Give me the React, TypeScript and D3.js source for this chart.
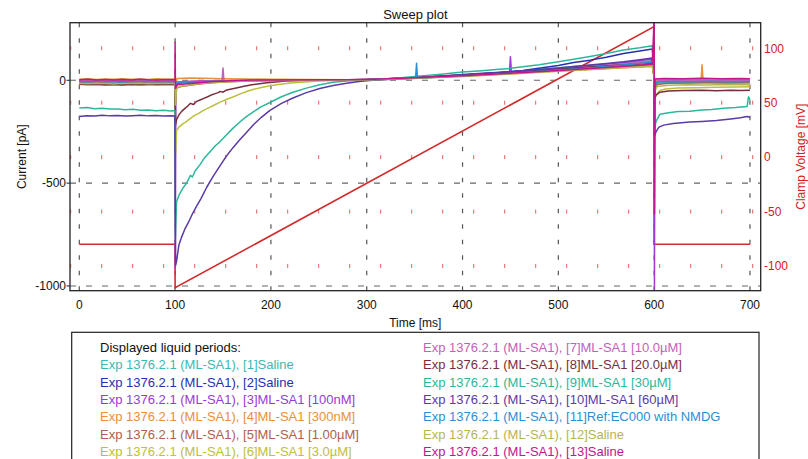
import React from 'react';
import * as d3 from 'd3';

type P = [number, number];

const xTicks = [0, 100, 200, 300, 400, 500, 600, 700];
const currentTicks = [0, -500, -1000];
const voltageTicks = [100, 50, 0, -50, -100];

const legendTitle = 'Displayed liquid periods:';
const seriesNames = [
  'Exp 1376.2.1 (ML-SA1), [1]Saline',
  'Exp 1376.2.1 (ML-SA1), [2]Saline',
  'Exp 1376.2.1 (ML-SA1), [3]ML-SA1 [100nM]',
  'Exp 1376.2.1 (ML-SA1), [4]ML-SA1 [300nM]',
  'Exp 1376.2.1 (ML-SA1), [5]ML-SA1 [1.00µM]',
  'Exp 1376.2.1 (ML-SA1), [6]ML-SA1 [3.0µM]',
  'Exp 1376.2.1 (ML-SA1), [7]ML-SA1 [10.0µM]',
  'Exp 1376.2.1 (ML-SA1), [8]ML-SA1 [20.0µM]',
  'Exp 1376.2.1 (ML-SA1), [9]ML-SA1 [30µM]',
  'Exp 1376.2.1 (ML-SA1), [10]ML-SA1 [60µM]',
  'Exp 1376.2.1 (ML-SA1), [11]Ref:EC000 with NMDG',
  'Exp 1376.2.1 (ML-SA1), [12]Saline',
  'Exp 1376.2.1 (ML-SA1), [13]Saline',
];
const seriesColors = [
  '#3bb9b3', '#2530b0', '#9a3ad6', '#e8903a', '#b0604a', '#bcc03a', '#c35fb9',
  '#782e3c', '#2db79a', '#5a3aa8', '#2a90d6', '#b5b650', '#c0168e',
];

const voltage: P[] = [[0, -80], [100, -80], [100, -120], [600, 120], [600, -80], [700, -80]];

const s1: P[] = [[0,-6],[9,-4],[18,-8],[27,-5],[36,-7],[45,-4],[54,-8],[63,-6],[72,-5],[81,-8],[90,-6],[99.7,-7],[100.4,-60],[101.5,-18],[106,-14],[115,-11],[128,-8],[142,-5],[160,-3],[185,-1],[215,0],[250,1],[280,2],[310,3],[340,8],[370,15],[400,24],[430,34],[460,45],[490,57],[520,68],[550,78],[575,88],[598,95],[600,30],[600.6,-40],[603,-14],[615,-11],[635,-12],[655,-10],[675,-12],[700,-11]];
const s2: P[] = [[0,-3],[9,-5],[18,-2],[27,-4],[36,-3],[45,-6],[54,-3],[63,-4],[72,-2],[81,-5],[90,-3],[99.7,-4],[100.4,-45],[101.5,-14],[108,-10],[120,-7],[135,-5],[155,-3],[180,-1],[210,1],[250,2],[290,3],[320,6],[350,13],[380,20],[410,28],[440,38],[463,48],[485,62],[500,72],[516,86],[533,98],[550,112],[568,130],[585,142],[598,152],[600,40],[600.6,-30],[603,-6],[620,-4],[640,-5],[660,-3],[680,-5],[700,-4]];
const s3: P[] = [[0,-1],[9,1],[18,-2],[27,0],[36,-1],[45,2],[54,-1],[63,0],[72,-2],[81,1],[90,-1],[99.7,0],[100.2,-915],[100.8,-40],[103,-8],[112,-6],[125,-4],[140,-2],[160,-1],[190,0],[230,1],[270,2],[300,4],[330,9],[360,15],[390,22],[420,30],[449,38],[450,115],[451,39],[480,48],[510,60],[540,74],[570,88],[598,104],[600,30],[600.3,-1020],[600.8,-20],[604,-5],[625,-3],[650,-4],[675,-2],[700,-3]];
const s4: P[] = [[0,5],[9,7],[18,4],[27,6],[36,5],[45,8],[54,5],[63,6],[72,4],[81,7],[90,5],[99.7,6],[100.5,-20],[102,9],[115,11],[130,10],[150,8],[175,6],[200,5],[240,4],[280,3],[310,4],[340,8],[370,13],[400,19],[430,26],[460,33],[490,41],[520,49],[550,56],[575,62],[598,67],[600,20],[600.6,-10],[603,5],[620,4],[640,3],[649,4],[650,75],[651,4],[670,3],[690,4],[700,3]];
const s5: P[] = [[0,-11],[9,-13],[18,-10],[27,-12],[36,-14],[45,-11],[54,-12],[63,-10],[72,-13],[81,-12],[90,-11],[99.7,-12],[100.5,-110],[101.5,-38],[106,-30],[115,-24],[125,-18],[138,-12],[152,-8],[170,-5],[195,-2],[230,0],[270,2],[300,3],[330,8],[360,14],[390,21],[420,28],[450,36],[480,44],[510,53],[540,61],[570,68],[598,75],[600,20],[600.6,-50],[603,-20],[615,-14],[635,-13],[655,-12],[675,-13],[700,-12]];
const s6: P[] = [[0,-21],[9,-23],[18,-20],[27,-24],[36,-22],[45,-21],[54,-24],[63,-22],[72,-20],[81,-23],[90,-22],[99.7,-22],[100.5,-360],[101.5,-245],[104,-228],[108,-212],[112,-200],[116,-185],[120,-172],[125,-160],[130,-145],[136,-132],[141,-120],[147,-106],[154,-92],[161,-80],[168,-66],[174,-56],[181,-45],[190,-35],[199,-27],[208,-20],[220,-13],[235,-8],[250,-4],[270,-1],[290,1],[310,3],[340,9],[370,16],[400,24],[430,32],[460,41],[490,50],[520,58],[550,66],[575,73],[598,80],[600,10],[600.5,-95],[602,-70],[606,-50],[612,-42],[625,-38],[645,-36],[665,-34],[685,-33],[700,-32]];
const s7: P[] = [[0,1],[9,-1],[18,2],[27,0],[36,1],[45,-2],[54,1],[63,0],[72,2],[81,-1],[90,1],[99.7,0],[100.5,-70],[101.5,-12],[108,-8],[120,-5],[135,-3],[149,-2],[150,60],[151,-2],[170,-1],[200,0],[240,2],[280,3],[310,5],[340,11],[370,18],[400,26],[430,35],[460,44],[490,53],[520,63],[550,73],[575,83],[598,92],[600,25],[600.6,-30],[603,-3],[620,0],[640,1],[660,-1],[680,1],[700,0]];
const s8: P[] = [[0,-18],[9,-21],[18,-19],[27,-22],[36,-20],[45,-23],[54,-19],[63,-22],[72,-20],[81,-21],[90,-19],[99.7,-20],[100.5,-215],[101.5,-192],[104,-168],[107,-150],[110,-138],[113,-126],[116,-112],[119,-118],[122,-104],[126,-96],[130,-88],[134,-80],[137,-73],[141,-66],[145,-60],[147,-54],[150,-58],[154,-47],[160,-41],[165,-36],[172,-29],[180,-22],[188,-17],[196,-12],[205,-8],[215,-4],[230,-1],[250,1],[280,3],[310,5],[340,11],[370,18],[400,26],[430,34],[460,43],[490,52],[520,61],[550,70],[575,77],[598,84],[600,10],[600.5,-90],[602,-72],[606,-58],[615,-52],[630,-50],[650,-48],[665,-51],[680,-49],[690,-50],[700,-48]];
const s9: P[] = [[0,-135],[8,-132],[16,-138],[24,-136],[32,-140],[40,-139],[48,-143],[56,-141],[64,-146],[72,-144],[80,-148],[88,-146],[96,-149],[99.8,-147],[100.3,-760],[101.5,-590],[104,-560],[108,-525],[112,-500],[116,-462],[118,-470],[121,-440],[126,-410],[131,-375],[136,-350],[142,-318],[147,-298],[153,-268],[160,-235],[167,-205],[174,-178],[182,-152],[190,-128],[199,-108],[211,-80],[223,-58],[237,-38],[251,-22],[265,-10],[279,-4],[292,0],[306,4],[330,10],[350,18],[375,28],[400,40],[420,46],[435,52],[450,58],[463,66],[480,76],[500,90],[516,102],[533,116],[550,130],[568,147],[585,158],[598,168],[600,40],[600.5,-230],[602,-200],[606,-165],[615,-158],[625,-152],[637,-150],[650,-145],[660,-142],[672,-136],[685,-132],[697,-127],[698.5,-80],[700,-95]];
const s10: P[] = [[0,-176],[8,-172],[16,-174],[24,-170],[32,-173],[40,-171],[48,-174],[56,-172],[64,-170],[72,-173],[80,-171],[88,-174],[96,-172],[99.8,-174],[100.5,-900],[101.5,-880],[104,-800],[107,-760],[110,-725],[114,-690],[118,-650],[122,-615],[127,-575],[133,-520],[140,-465],[147,-415],[153,-372],[160,-330],[167,-292],[174,-256],[182,-215],[190,-180],[199,-146],[211,-112],[223,-86],[237,-60],[251,-40],[265,-25],[279,-14],[292,-6],[306,0],[330,6],[350,12],[375,20],[400,28],[425,36],[450,42],[475,50],[500,60],[516,67],[533,74],[550,82],[568,90],[585,100],[598,108],[600,20],[600.5,-270],[602,-250],[605,-228],[610,-218],[620,-210],[637,-203],[650,-200],[665,-196],[680,-188],[690,-182],[697,-176],[700,-180]];
const s11: P[] = [[0,-6],[9,-8],[18,-5],[27,-7],[36,-6],[45,-9],[54,-6],[63,-7],[72,-5],[81,-8],[90,-6],[99.7,-7],[100.5,-50],[101.5,-10],[110,-8],[125,-7],[145,-5],[165,-3],[190,-1],[220,0],[260,1],[300,3],[330,6],[351,10],[352,83],[353,10],[380,16],[410,23],[440,31],[470,40],[500,50],[530,60],[560,71],[580,79],[598,88],[600,25],[600.6,-30],[603,-8],[620,-6],[640,-7],[660,-5],[680,-7],[700,-6]];
const s12: P[] = [[0,-15],[9,-17],[18,-14],[27,-16],[36,-18],[45,-15],[54,-16],[63,-14],[72,-17],[81,-16],[90,-15],[99.7,-16],[100.5,-120],[101.5,-35],[108,-28],[118,-20],[130,-14],[145,-9],[165,-5],[190,-2],[230,0],[270,1],[300,2],[330,6],[360,12],[390,18],[420,25],[450,32],[480,40],[510,47],[540,55],[570,62],[598,70],[600,15],[600.6,-55],[603,-30],[615,-24],[635,-22],[655,-23],[675,-21],[700,-22]];
const s13: P[] = [[0,3],[9,5],[18,2],[27,4],[36,1],[45,4],[54,2],[63,5],[72,3],[81,2],[90,4],[99.8,3],[100,185],[100.4,-40],[102,-22],[110,-18],[125,-12],[140,-6],[160,-2],[180,1],[200,2],[250,3],[300,4],[350,12],[400,22],[450,34],[500,48],[550,62],[598,78],[600,300],[600.3,-650],[601,6],[610,9],[630,8],[650,10],[670,8],[690,9],[700,8]];

const currentSeries = [s1, s2, s3, s4, s5, s6, s7, s8, s9, s10, s11, s12, s13];

const W = 808;
const H = 459;
const L = 70, R = 760.7, T = 22.7, B = 290.7;
const FONT = '"Liberation Sans", Arial, sans-serif';

export default function App() {
  const x = d3.scaleLinear().domain([-9.7, 711.2]).range([L, R]);
  const yI = d3.scaleLinear().domain([-1023, 280]).range([B, T]);
  const yV = d3.scaleLinear().domain([-122.7, 123.5]).range([B, T]);
  const lineI = d3.line<P>().x(d => x(d[0])).y(d => yI(d[1]));
  const lineV = d3.line<P>().x(d => x(d[0])).y(d => yV(d[1]));
  const redMarkX = d3.range(0, 23).map(i => L + 0.7 + i * 31);

  return (
    <svg width={W} height={H} style={{ position: 'absolute', left: 0, top: 0, background: '#fff' }} fontFamily={FONT}>
      <defs>
        <clipPath id="plotclip">
          <rect x={L} y={T} width={R - L} height={B - T} />
        </clipPath>
      </defs>
      <rect x={0} y={0} width={W} height={H} fill="#fff" />
      <text x={(L + R) / 2} y={19} textAnchor="middle" fontSize={13} fill="#111">Sweep plot</text>

      {/* grid */}
      <g>
        {xTicks.map(t => (
          <line key={'gx' + t} x1={x(t)} x2={x(t)} y1={T} y2={B} stroke="#555" strokeWidth={1.2} strokeDasharray="4.5,11" />
        ))}
        {currentTicks.map(t => (
          <line key={'gy' + t} x1={L} x2={R} y1={yI(t)} y2={yI(t)} stroke="#666" strokeWidth={1.1} strokeDasharray="6,10" />
        ))}
        {voltageTicks.map(v => (
          <g key={'rv' + v}>
            {redMarkX.map((mx, i) => (
              <line key={i} x1={mx} x2={mx} y1={yV(v) - 2} y2={yV(v) + 2} stroke="#e06060" strokeWidth={1} />
            ))}
          </g>
        ))}
      </g>

      <g clipPath="url(#plotclip)">
        <path d={lineV(voltage) || ''} fill="none" stroke="#d22c2c" strokeWidth={1.6} />
        {currentSeries.map((s, i) => (
          <path key={i} d={lineI(s) || ''} fill="none" stroke={seriesColors[i]} strokeWidth={1.5} strokeLinejoin="round" />
        ))}
      </g>

      {/* frame */}
      <rect x={L} y={T} width={R - L} height={B - T} fill="none" stroke="#222" strokeWidth={1.3} />

      {/* x axis */}
      {xTicks.map(t => (
        <text key={'xl' + t} x={x(t)} y={309} textAnchor="middle" fontSize={12} fill="#111">{t}</text>
      ))}
      <text x={(L + R) / 2} y={327} textAnchor="middle" fontSize={12} fill="#111">Time [ms]</text>

      {/* left axis */}
      {currentTicks.map(t => (
        <g key={'yl' + t}>
          <line x1={L - 3.5} x2={L} y1={yI(t)} y2={yI(t)} stroke="#222" strokeWidth={1} />
          <text x={L - 4} y={yI(t) + 4.3} textAnchor="end" fontSize={12} fill="#111">{t}</text>
        </g>
      ))}
      <text transform={`translate(26,${(T + B) / 2}) rotate(-90)`} textAnchor="middle" fontSize={12} fill="#111">Current [pA]</text>

      {/* right axis */}
      {voltageTicks.map(v => (
        <text key={'yr' + v} x={764} y={yV(v) + 4.3} textAnchor="start" fontSize={12} fill="#d42020">{v}</text>
      ))}
      <text transform={`translate(805,${(T + B) / 2}) rotate(-90)`} textAnchor="middle" fontSize={12} fill="#d42020">Clamp Voltage [mV]</text>

      {/* legend */}
      <rect x={71.7} y={332.3} width={759 - 71.7} height={140} fill="none" stroke="#222" strokeWidth={1.2} />
      <text x={100} y={352} fontSize={13} fill="#111">{legendTitle}</text>
      {seriesNames.map((n, i) => {
        const col = i < 6 ? 0 : 1;
        const row = i < 6 ? i + 1 : i - 6;
        return (
          <text key={'lg' + i} x={col === 0 ? 100 : 423} y={352 + row * 17.3} fontSize={13} fill={seriesColors[i]}>{n}</text>
        );
      })}
    </svg>
  );
}
